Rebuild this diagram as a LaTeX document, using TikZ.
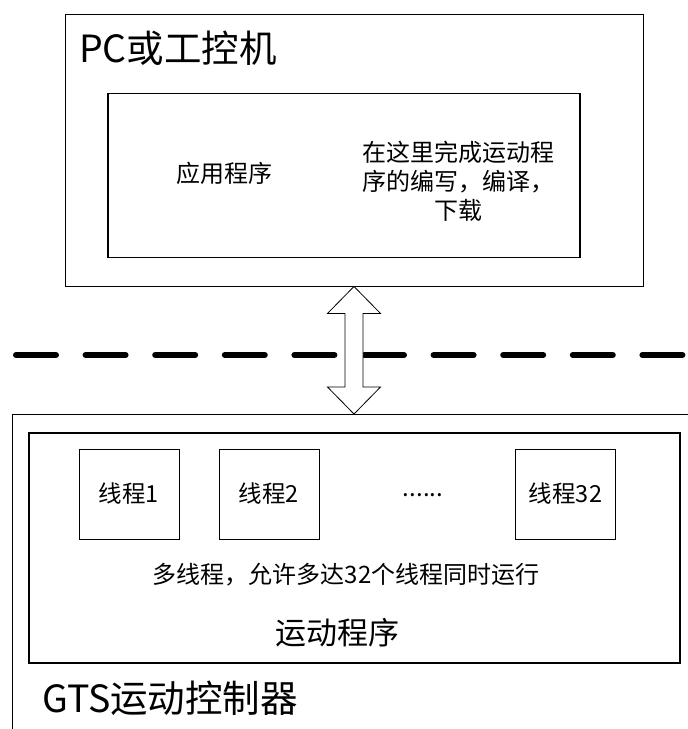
\documentclass[tikz,border=0pt]{standalone}
\usepackage{fontspec}
\setmainfont{Noto Sans CJK SC}
\usetikzlibrary{calc,positioning}

\begin{document}
\begin{tikzpicture}[x=1pt, y=-1pt, node distance=39pt,
    every node/.style={inner sep=0pt, align=center},
    frame/.style={draw, line width=0.9pt, fill=white},
    inframe/.style={draw, line width=1.4pt},
    thread/.style={draw, line width=1pt, minimum width=100pt, minimum height=90pt, font=\fontsize{23.5}{27}\selectfont},
    bigtext/.style={font=\fontsize{37.5}{42}\selectfont},
    midtext/.style={font=\fontsize{24}{29}\selectfont}]
\useasboundingbox (0,0) rectangle (688,729);
\clip (0,0) rectangle (688,729);
% Top: host computer
\node[frame, minimum width=578pt, minimum height=272pt] (pc) at (354,150) {};
\node[bigtext, anchor=west] (pclabel) at (79,48) {PC或工控机};
\node[inframe, minimum width=472pt, minimum height=164pt] (app) at (344,175.5) {};
\node[midtext] (applabel) at (224,173) {应用程序};
\node[midtext] (appnote) at (458,181) {在这里完成运动程\\序的编写，编译，\\下载};
% Bottom: controller (runs off the page)
\node[frame, minimum width=720pt, minimum height=340pt, anchor=north west] (gts) at (12,414) {};
\node[inframe, minimum width=651pt, minimum height=230pt] (motion) at (354.5,548) {};
\node[thread] (t1) at (129,494) {线程1};
\node[thread, right=of t1] (t2) {线程2};
\node[midtext] (dots) at (423,495) {......};
\node[thread] (t32) at (565.5,494) {线程32};
\node[midtext] (multi) at (346,575) {多线程，允许多达32个线程同时运行};
\node[font=\fontsize{31}{35}\selectfont] (motionlabel) at (337,633) {运动程序};
\node[bigtext, anchor=west] (gtslabel) at (42,698) {GTS运动控制器};
% Separator and link
\coordinate (sepL) at (16,355);
\coordinate (sepR) at (683,355);
\draw[line width=6pt, line cap=round, dash pattern=on 40pt off 29.6pt] (sepL) -- (sepR);
\coordinate (link) at (pc.south |- gts.north);
\draw[fill=white, line width=0.8pt] (pc.south) -- ++(26.5,27) -- ++(-17.5,0) -- ($(link)+(9,-27)$) -- ++(17.5,0) -- (link)
  -- ++(-26.5,-27) -- ++(17.5,0) -- ($(pc.south)+(-9,27)$) -- ++(-17.5,0) -- cycle;
\end{tikzpicture}
\end{document}
